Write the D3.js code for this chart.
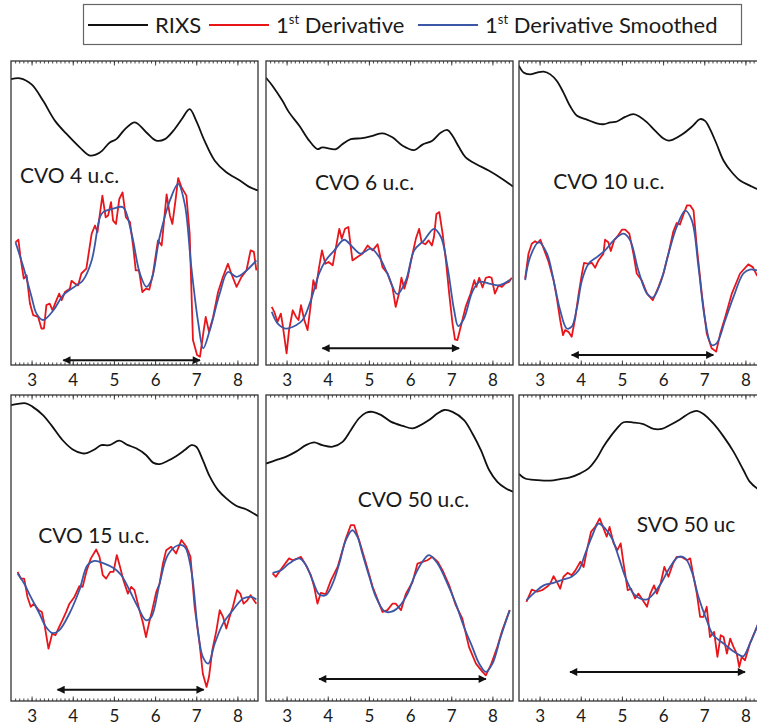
<!DOCTYPE html>
<html>
<head>
<meta charset="utf-8">
<title>RIXS derivatives</title>
<script src="https://cdn.jsdelivr.net/npm/d3@7"></script>
<style>
body { margin: 0; background: #fff; }
text { font-family: Lato, "Open Sans", sans-serif; fill: #1a1a1a; }
</style>
</head>
<body>
<script>
// x axis ticks (energy loss, eV)
var xTicks = [3, 4, 5, 6, 7, 8];

// ---- CVO 4 u.c.
var rixs4 = [[2.5,94.0],[2.72,94.3],[3.0,92.3],[3.28,86.9],[3.57,80.3],[3.85,76.0],[4.17,71.6],[4.42,68.9],[4.66,69.9],[4.9,73.2],[5.06,74.3],[5.27,77.6],[5.51,79.8],[5.79,76.5],[6.03,73.8],[6.24,74.3],[6.44,77.0],[6.65,80.9],[6.84,84.2],[7.0,80.3],[7.2,73.8],[7.45,67.2],[7.73,63.4],[8.06,60.7],[8.3,58.5],[8.5,57.4]];
var der4 = [[2.61,40.4],[2.68,41.2],[2.73,35.5],[2.81,28.4],[2.88,29.5],[2.96,20.2],[3.04,16.4],[3.16,15.8],[3.24,12.0],[3.30,12.0],[3.36,19.7],[3.44,20.2],[3.51,18.0],[3.57,20.2],[3.67,23.5],[3.73,21.3],[3.81,24.0],[3.93,25.1],[3.97,27.7],[4.05,26.8],[4.13,26.2],[4.21,30.1],[4.33,31.7],[4.46,43.2],[4.54,45.9],[4.60,43.7],[4.66,49.7],[4.72,55.7],[4.80,48.6],[4.86,49.2],[4.93,53.6],[4.98,47.5],[5.05,46.4],[5.13,54.6],[5.21,56.8],[5.29,48.6],[5.39,47.0],[5.47,38.8],[5.53,31.1],[5.61,31.1],[5.69,24.0],[5.78,25.1],[5.86,24.8],[5.95,30.1],[6.07,41.0],[6.16,39.3],[6.28,56.1],[6.36,49.2],[6.42,46.4],[6.50,54.6],[6.56,61.5],[6.64,58.5],[6.76,55.7],[6.84,43.2],[6.92,8.2],[7.02,3.3],[7.09,2.7],[7.17,10.4],[7.23,15.8],[7.31,10.9],[7.41,15.8],[7.53,24.0],[7.65,29.0],[7.77,33.3],[7.85,30.1],[7.98,25.7],[8.10,29.0],[8.22,31.1],[8.32,37.7],[8.40,37.2],[8.46,31.1]];
var smo4 = [[2.61,40.4],[2.8,32.2],[3.0,22.4],[3.12,16.9],[3.28,14.8],[3.53,18.0],[3.77,23.0],[4.09,26.2],[4.25,27.9],[4.46,34.4],[4.66,48.6],[4.74,50.3],[4.98,51.4],[5.22,51.9],[5.43,43.2],[5.63,30.1],[5.79,25.7],[5.91,27.9],[6.11,42.1],[6.36,54.1],[6.56,59.6],[6.72,53.0],[6.88,32.2],[7.05,13.7],[7.17,5.5],[7.33,11.5],[7.57,23.5],[7.77,30.6],[7.98,29.0],[8.22,31.1],[8.46,34.4]];

// ---- CVO 6 u.c.
var rixs6 = [[2.5,94.5],[2.66,91.8],[2.90,86.9],[3.06,83.1],[3.31,78.7],[3.55,73.8],[3.75,71.0],[3.87,71.6],[4.20,71.0],[4.36,72.7],[4.56,74.3],[4.84,74.6],[5.09,75.4],[5.33,76.2],[5.57,74.9],[5.82,72.1],[6.10,70.7],[6.30,72.5],[6.54,73.8],[6.75,76.5],[6.91,77.3],[7.03,75.4],[7.19,71.6],[7.35,68.3],[7.60,66.1],[7.92,63.9],[8.24,61.2],[8.5,58.7]];
var der6 = [[2.64,19.1],[2.70,17.5],[2.78,14.2],[2.86,16.9],[2.90,13.7],[3.00,3.8],[3.06,11.5],[3.15,18.0],[3.23,15.8],[3.29,14.8],[3.35,19.7],[3.43,14.8],[3.51,11.5],[3.59,20.2],[3.65,27.9],[3.71,25.1],[3.79,32.2],[3.86,37.7],[3.94,33.3],[4.02,33.9],[4.12,32.8],[4.20,38.8],[4.28,44.8],[4.34,41.5],[4.42,44.8],[4.50,45.4],[4.60,34.4],[4.72,35.5],[4.84,36.6],[4.97,39.3],[5.09,37.7],[5.21,39.7],[5.33,32.2],[5.45,30.1],[5.57,25.7],[5.65,19.1],[5.73,23.5],[5.79,28.7],[5.86,25.1],[5.94,28.7],[6.06,36.6],[6.14,41.5],[6.22,44.8],[6.28,40.4],[6.37,39.7],[6.45,41.0],[6.53,39.3],[6.58,42.1],[6.64,49.7],[6.71,50.3],[6.79,43.2],[6.87,34.4],[6.95,23.5],[7.03,13.7],[7.09,8.4],[7.15,8.2],[7.23,12.6],[7.35,19.1],[7.47,23.5],[7.56,27.9],[7.61,25.7],[7.68,28.7],[7.76,25.5],[7.84,28.7],[7.92,29.0],[7.98,28.7],[8.06,23.5],[8.15,26.2],[8.23,25.7],[8.31,26.8],[8.40,27.3],[8.47,28.7]];
var smo6 = [[2.64,17.5],[2.78,13.7],[2.98,12.0],[3.23,13.1],[3.39,14.8],[3.59,21.3],[3.79,30.1],[3.95,34.4],[4.16,37.7],[4.40,41.2],[4.60,38.8],[4.80,36.6],[5.05,38.3],[5.25,35.5],[5.45,30.1],[5.69,23.3],[5.90,27.9],[6.10,37.7],[6.34,41.0],[6.58,44.8],[6.75,42.1],[6.91,32.2],[7.07,18.0],[7.17,12.8],[7.31,15.3],[7.51,24.0],[7.68,27.3],[7.92,26.8],[8.16,26.2],[8.44,28.1]];

// ---- CVO 10 u.c.
var rixs10 = [[2.5,98.4],[2.61,96.2],[2.77,95.6],[2.94,96.2],[3.10,96.5],[3.26,95.6],[3.42,93.4],[3.58,89.6],[3.74,85.2],[3.91,82.0],[4.15,80.7],[4.39,79.5],[4.55,79.2],[4.72,79.8],[4.88,80.1],[5.08,81.6],[5.28,82.5],[5.44,81.6],[5.61,79.8],[5.81,77.0],[6.01,74.5],[6.13,73.8],[6.25,74.2],[6.45,75.7],[6.70,78.4],[6.90,80.9],[7.02,80.3],[7.14,77.6],[7.30,72.7],[7.47,67.2],[7.67,63.4],[7.87,60.7],[8.11,59.0],[8.28,57.9],[8.5,57.0]];
var der10 = [[2.65,28.4],[2.73,36.6],[2.81,39.9],[2.89,40.7],[2.95,40.1],[3.02,41.2],[3.10,38.3],[3.22,33.9],[3.34,27.9],[3.42,21.9],[3.50,14.8],[3.57,9.8],[3.62,11.5],[3.70,10.9],[3.78,9.3],[3.87,15.8],[3.95,23.5],[4.03,30.1],[4.08,33.6],[4.19,33.3],[4.27,33.6],[4.35,32.0],[4.43,34.4],[4.55,36.6],[4.59,41.2],[4.67,40.4],[4.73,37.5],[4.81,41.0],[4.89,42.3],[5.00,44.5],[5.08,44.5],[5.18,43.2],[5.28,36.6],[5.36,30.1],[5.48,27.9],[5.61,23.5],[5.75,21.3],[5.89,25.7],[6.01,30.1],[6.13,36.6],[6.25,44.0],[6.33,46.7],[6.41,46.2],[6.50,49.7],[6.58,52.5],[6.66,52.5],[6.74,50.8],[6.82,38.8],[6.94,23.5],[7.06,10.4],[7.18,5.5],[7.29,4.4],[7.39,10.4],[7.51,15.8],[7.67,23.5],[7.87,30.1],[8.07,33.1],[8.18,32.2],[8.28,29.5],[8.45,30.5]];
var smo10 = [[2.65,27.9],[2.77,35.5],[2.98,40.4],[3.18,36.6],[3.34,27.9],[3.50,18.0],[3.66,12.0],[3.78,12.6],[3.91,19.1],[4.03,27.9],[4.19,33.3],[4.39,35.5],[4.59,37.7],[4.80,41.0],[5.04,43.2],[5.20,41.0],[5.40,31.1],[5.61,23.5],[5.75,22.2],[5.93,26.8],[6.13,36.6],[6.33,45.4],[6.54,50.8],[6.70,47.5],[6.86,32.2],[7.02,14.8],[7.18,6.6],[7.30,7.1],[7.51,14.8],[7.71,22.4],[7.95,30.1],[8.11,31.4],[8.28,31.1],[8.45,30.8]];

// ---- CVO 15 u.c.
var rixs15 = [[2.5,96.7],[2.66,97.1],[2.86,97.3],[3.02,96.2],[3.27,93.5],[3.51,89.6],[3.75,85.3],[4.00,82.2],[4.24,80.9],[4.36,81.1],[4.53,82.2],[4.69,83.6],[4.89,83.6],[5.13,85.1],[5.34,83.6],[5.54,82.6],[5.78,80.4],[5.95,77.9],[6.11,77.4],[6.31,78.5],[6.51,80.0],[6.72,82.0],[6.88,83.6],[7.00,83.1],[7.16,78.7],[7.33,73.3],[7.53,68.9],[7.73,66.2],[7.98,63.7],[8.22,62.6],[8.5,60.4]];
var der15 = [[2.66,42.2],[2.74,40.0],[2.82,40.0],[2.90,34.0],[2.98,30.8],[3.06,31.8],[3.17,29.7],[3.25,29.1],[3.31,25.3],[3.41,17.1],[3.50,22.0],[3.58,21.5],[3.67,24.2],[3.75,26.4],[3.84,29.1],[3.92,31.8],[4.04,34.0],[4.16,37.5],[4.24,37.3],[4.34,42.7],[4.44,46.6],[4.57,49.5],[4.65,47.1],[4.73,41.1],[4.81,40.0],[4.91,42.2],[4.99,42.2],[5.07,47.7],[5.15,43.8],[5.23,39.5],[5.34,35.1],[5.42,37.3],[5.50,36.2],[5.62,29.7],[5.70,25.8],[5.78,20.9],[5.85,25.3],[5.93,29.7],[6.03,35.7],[6.11,38.4],[6.19,44.9],[6.27,49.3],[6.39,50.4],[6.51,48.2],[6.64,52.6],[6.76,50.4],[6.86,47.1],[6.96,30.8],[7.08,18.8],[7.16,8.9],[7.25,4.6],[7.31,7.9],[7.39,16.6],[7.49,23.1],[7.57,29.7],[7.65,27.5],[7.73,23.7],[7.81,27.5],[7.89,30.8],[7.99,36.2],[8.07,35.1],[8.15,31.8],[8.24,32.9],[8.32,34.6],[8.40,32.9],[8.46,31.8]];
var smo15 = [[2.66,41.7],[2.82,38.4],[2.98,34.0],[3.19,28.6],[3.35,24.2],[3.51,22.2],[3.67,23.1],[3.92,28.6],[4.16,36.2],[4.36,44.4],[4.53,45.8],[4.77,44.9],[5.01,43.3],[5.18,41.1],[5.38,36.2],[5.58,30.8],[5.78,26.4],[5.91,27.5],[6.11,38.4],[6.31,47.7],[6.56,50.9],[6.72,50.4],[6.88,42.7],[7.04,23.1],[7.16,14.4],[7.29,12.2],[7.45,18.8],[7.65,25.3],[7.89,29.7],[8.14,33.5],[8.34,34.0],[8.46,33.2]];

// ---- CVO 50 u.c.
var rixs50 = [[2.5,77.6],[2.74,78.7],[2.98,79.8],[3.23,81.5],[3.47,83.6],[3.67,84.5],[3.87,83.6],[4.12,83.1],[4.36,84.7],[4.56,88.5],[4.76,92.4],[4.93,94.2],[5.09,94.5],[5.29,93.5],[5.53,91.3],[5.82,89.9],[6.06,89.1],[6.22,89.9],[6.46,91.8],[6.67,94.0],[6.83,95.1],[7.03,94.5],[7.31,91.8],[7.51,87.5],[7.72,82.0],[7.92,75.5],[8.12,71.6],[8.32,69.5],[8.5,68.4]];
var der50 = [[2.66,41.7],[2.74,40.6],[2.86,43.0],[3.06,46.6],[3.15,46.0],[3.27,46.6],[3.35,47.1],[3.47,44.4],[3.59,41.1],[3.67,37.3],[3.75,31.8],[3.83,35.3],[3.95,34.9],[4.08,39.5],[4.24,43.8],[4.44,53.1],[4.56,57.5],[4.64,57.5],[4.76,52.6],[4.93,44.9],[5.09,37.3],[5.25,31.8],[5.33,29.1],[5.45,29.7],[5.57,31.8],[5.65,31.8],[5.78,29.7],[5.90,35.1],[6.06,38.9],[6.18,44.9],[6.30,45.5],[6.42,46.0],[6.54,47.1],[6.67,45.5],[6.79,42.7],[6.95,37.8],[7.11,31.3],[7.27,26.9],[7.43,17.7],[7.60,12.2],[7.76,9.5],[7.84,8.4],[7.96,11.7],[8.12,17.7],[8.24,23.1],[8.42,29.7]];
var smo50 = [[2.66,41.9],[2.86,42.7],[3.06,44.9],[3.31,46.6],[3.47,44.4],[3.63,39.5],[3.79,34.9],[3.95,34.6],[4.12,38.4],[4.28,44.9],[4.44,52.6],[4.60,55.8],[4.72,53.7],[4.84,48.2],[5.01,40.6],[5.17,34.0],[5.37,29.4],[5.53,29.1],[5.73,30.8],[5.94,35.1],[6.10,40.6],[6.30,45.5],[6.46,47.7],[6.67,44.9],[6.87,39.5],[7.11,31.8],[7.31,24.2],[7.51,17.7],[7.68,12.2],[7.84,9.5],[8.00,12.2],[8.20,20.9],[8.42,29.7]];

// ---- SVO 50 uc
var rixsS = [[2.5,74.2],[2.65,72.7],[2.94,72.2],[3.26,72.0],[3.50,72.5],[3.74,73.1],[3.99,74.4],[4.19,76.0],[4.39,79.3],[4.55,83.1],[4.72,86.4],[4.88,89.1],[5.04,91.1],[5.28,91.0],[5.52,90.5],[5.77,88.9],[5.97,88.9],[6.17,90.2],[6.41,92.0],[6.66,94.2],[6.82,94.8],[6.98,93.8],[7.22,90.7],[7.47,86.4],[7.71,81.5],[7.95,75.5],[8.11,71.6],[8.28,69.5],[8.5,68.0]];
var derS = [[2.68,32.4],[2.81,36.4],[2.94,35.7],[3.06,36.2],[3.18,37.3],[3.26,38.4],[3.34,40.8],[3.42,38.9],[3.50,36.7],[3.58,40.6],[3.68,41.9],[3.78,41.1],[3.87,42.7],[3.99,45.5],[4.07,43.8],[4.15,49.3],[4.25,55.3],[4.35,56.9],[4.46,59.7],[4.54,56.9],[4.63,53.7],[4.70,56.9],[4.80,51.5],[4.89,49.3],[4.97,51.5],[5.04,44.9],[5.14,36.2],[5.22,36.7],[5.32,33.5],[5.40,35.1],[5.48,33.5],[5.61,30.8],[5.69,35.1],[5.78,37.8],[5.85,35.1],[5.94,38.4],[6.03,43.8],[6.13,40.6],[6.24,44.9],[6.33,47.1],[6.45,47.1],[6.58,46.0],[6.66,46.6],[6.74,40.6],[6.82,35.1],[6.90,27.5],[6.98,27.5],[7.06,30.8],[7.14,20.9],[7.24,22.6],[7.32,14.4],[7.40,21.5],[7.47,20.9],[7.55,15.5],[7.63,20.4],[7.71,17.7],[7.79,15.5],[7.85,11.1],[7.91,14.4],[7.99,13.3],[8.11,18.8],[8.28,24.2],[8.45,30.0]];
var smoS = [[2.68,32.9],[2.85,35.1],[3.10,37.8],[3.34,38.6],[3.58,39.7],[3.78,40.6],[3.95,42.7],[4.11,48.2],[4.27,53.7],[4.43,58.0],[4.59,56.4],[4.76,53.1],[4.92,47.1],[5.08,40.6],[5.28,35.1],[5.44,33.5],[5.61,33.2],[5.77,35.1],[5.97,38.9],[6.17,43.8],[6.37,47.1],[6.54,46.6],[6.70,42.2],[6.86,34.0],[7.06,26.4],[7.22,21.5],[7.47,18.8],[7.67,16.6],[7.87,14.9],[7.95,14.6],[8.11,18.8],[8.28,24.2],[8.45,29.5]];

// arrows [from, to, level]
var arrow4 = [3.77, 7.09, 1.6];
var arrow6 = [3.87, 7.19, 5.5];
var arrow10 = [3.78, 7.22, 3.3];
var arrow15 = [3.63, 7.18, 3.7];
var arrow50 = [3.79, 7.84, 7.2];
var arrowS = [3.74, 7.99, 9.5];

var panels = [
    {name: "CVO 4 u.c.",  rixs: rixs4,  der: der4,  smo: smo4,  arrow: arrow4,  lab: [2.72, 59.9], col: 0, row: 0},
    {name: "CVO 6 u.c.",  rixs: rixs6,  der: der6,  smo: smo6,  arrow: arrow6,  lab: [3.69, 57.6], col: 1, row: 0},
    {name: "CVO 10 u.c.", rixs: rixs10, der: der10, smo: smo10, arrow: arrow10, lab: [3.33, 57.9], col: 2, row: 0},
    {name: "CVO 15 u.c.", rixs: rixs15, der: der15, smo: smo15, arrow: arrow15, lab: [3.16, 51.6], col: 0, row: 1},
    {name: "CVO 50 u.c.", rixs: rixs50, der: der50, smo: smo50, arrow: arrow50, lab: [4.73, 63.4], col: 1, row: 1},
    {name: "SVO 50 uc",   rixs: rixsS,  der: derS,  smo: smoS,  arrow: arrowS,  lab: [5.36, 55.2], col: 2, row: 1}
];

var W = 757, H = 726;
var lefts = [11, 266, 519], pw = 247;
var rows = [[61, 365], [395, 701]];
var colBlack = "#111", colRed = "#e8161b", colBlue = "#3b57a7";

var svg = d3.select("body").append("svg")
    .attr("width", W)
    .attr("height", H);

var defs = svg.append("defs");
defs.append("marker")
    .attr("id", "head")
    .attr("viewBox", "0 0 10 10")
    .attr("refX", 9).attr("refY", 5)
    .attr("markerWidth", 5).attr("markerHeight", 4)
    .attr("markerUnits", "strokeWidth")
    .attr("orient", "auto-start-reverse")
    .append("path")
    .attr("d", "M0,0 L10,5 L0,10 Z")
    .attr("fill", "#111");

panels.forEach(function(p, i) {
    var l = lefts[p.col], top = rows[p.row][0], bot = rows[p.row][1];
    var x = d3.scaleLinear().domain([2.5, 8.5]).range([l, l + pw]);
    var y = d3.scaleLinear().domain([0, 100]).range([bot, top]);

    defs.append("clipPath").attr("id", "clip" + i)
        .append("rect")
        .attr("x", l).attr("y", top)
        .attr("width", pw).attr("height", bot - top);

    var g = svg.append("g");
    var plot = g.append("g").attr("clip-path", "url(#clip" + i + ")");

    var line = d3.line()
        .x(function(d) { return x(d[0]); })
        .y(function(d) { return y(d[1]); });

    plot.append("path").datum(p.rixs)
        .attr("d", line.curve(d3.curveCatmullRom.alpha(0.5)))
        .attr("fill", "none").attr("stroke", colBlack).attr("stroke-width", 1.8);

    plot.append("path").datum(p.der)
        .attr("d", line.curve(d3.curveLinear))
        .attr("fill", "none").attr("stroke", colRed).attr("stroke-width", 1.8)
        .attr("stroke-linejoin", "round");

    plot.append("path").datum(p.smo)
        .attr("d", line.curve(d3.curveCatmullRom.alpha(0.5)))
        .attr("fill", "none").attr("stroke", colBlue).attr("stroke-width", 1.8);

    // double arrow
    plot.append("line")
        .attr("x1", x(p.arrow[0])).attr("x2", x(p.arrow[1]))
        .attr("y1", y(p.arrow[2])).attr("y2", y(p.arrow[2]))
        .attr("stroke", "#111").attr("stroke-width", 2)
        .attr("marker-start", "url(#head)")
        .attr("marker-end", "url(#head)");

    // label
    g.append("text")
        .attr("x", x(p.lab[0])).attr("y", y(p.lab[1]))
        .attr("font-size", 21)
        .text(p.name);

    // minor + major ticks, bottom and top
    var minor = d3.range(26, 85).map(function(d) { return d / 10; });
    g.append("g").attr("transform", "translate(0," + bot + ")")
        .call(d3.axisBottom(x).tickValues(minor).tickSize(-2.5).tickFormat(""))
        .call(function(a) { a.select(".domain").remove(); });
    g.append("g").attr("transform", "translate(0," + top + ")")
        .call(d3.axisTop(x).tickValues(minor).tickSize(-2.5).tickFormat(""))
        .call(function(a) { a.select(".domain").remove(); });
    g.append("g").attr("transform", "translate(0," + top + ")")
        .call(d3.axisTop(x).tickValues(xTicks).tickSize(-4.5).tickFormat(""))
        .call(function(a) { a.select(".domain").remove(); });
    var ax = g.append("g").attr("transform", "translate(0," + bot + ")")
        .call(d3.axisBottom(x).tickValues(xTicks).tickSize(-4.5).tickPadding(9)
            .tickFormat(d3.format("d")));
    ax.select(".domain").remove();
    ax.selectAll("text").attr("font-size", 17).attr("font-family", "Lato, sans-serif").attr("fill", "#1a1a1a");
    g.selectAll(".tick line").attr("stroke", "#333").attr("stroke-width", 0.9);

    g.append("rect")
        .attr("x", l).attr("y", top)
        .attr("width", pw).attr("height", bot - top)
        .attr("fill", "none").attr("stroke", "#333").attr("stroke-width", 1.3);
});

// legend
var leg = svg.append("g");
leg.append("rect")
    .attr("x", 83.5).attr("y", 4.5).attr("width", 658).attr("height", 40)
    .attr("fill", "#fff").attr("stroke", "#666").attr("stroke-width", 1.2);

var legItems = [
    {color: colBlack, x: 88, text: ["RIXS"]},
    {color: colRed, x: 209, text: ["1", "st", " Derivative"]},
    {color: colBlue, x: 418, text: ["1", "st", " Derivative Smoothed"]}
];
legItems.forEach(function(it) {
    leg.append("line")
        .attr("x1", it.x).attr("x2", it.x + 60)
        .attr("y1", 25).attr("y2", 25)
        .attr("stroke", it.color).attr("stroke-width", 2);
    var t = leg.append("text")
        .attr("x", it.x + 67).attr("y", 33)
        .attr("font-size", 22);
    if (it.text.length === 1) {
        t.text(it.text[0]);
    } else {
        t.append("tspan").text(it.text[0]);
        t.append("tspan").attr("font-size", 13).attr("dy", -9).text(it.text[1]);
        t.append("tspan").attr("dy", 9).text(it.text[2]);
    }
});
</script>
</body>
</html>
